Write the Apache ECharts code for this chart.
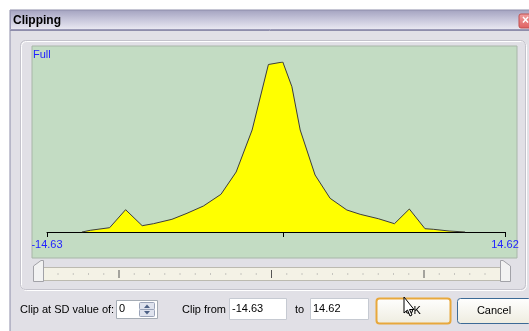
<!DOCTYPE html>
<html><head><meta charset="utf-8">
<style>html,body{margin:0;padding:0;background:#fff;}#c{width:529px;height:331px;}</style>
<script src="https://cdn.jsdelivr.net/npm/echarts@6/dist/echarts.min.js"></script>
</head><body><div id="c"></div>
<script>
// Histogram profile (x = value, y = relative count)
const xValues = [-12.40, -11.87, -10.63, -9.61, -8.55, -7.83, -6.65, -5.69, -4.64, -3.52, -2.55, -1.53, -0.49, 0.43, 1.01, 1.54, 2.49, 3.45, 4.52, 5.37, 6.53, 7.56, 8.51, 9.51, 10.04, 11.05, 12.07];
const counts  = [0, 1.7, 4.3, 22.3, 6.3, 8.3, 12.7, 18.7, 26, 37.7, 60, 102, 167.5, 170, 145.3, 102, 57, 33.7, 22, 17.7, 13.3, 8.3, 23, 3.3, 2.7, 1, 0];
const axisMin = -14.63, axisMax = 14.62;
const tickValues = [-14.63, 0.45, 14.62];
const labelValues = [-14.63, 14.62];
const clipFrom = "-14.63", clipTo = "14.62", sdValue = "0";

const data = xValues.map((x, i) => [x, counts[i]]);
const FONT = '"Liberation Sans", Arial, sans-serif';

// slider ticks (decoration)
const sliderTicks = [];
for (let i = 0; i < 29; i++) {
  const x = 58 + i * 15.25;
  const big = (i === 4 || i === 14 || i === 24);
  sliderTicks.push({type:'line', z:-5, shape:{x1:x, y1: big ? 270 : 273.5, x2:x, y2: big ? 278 : 274.5}, style:{stroke: big ? '#555' : '#999', lineWidth:1}});
}

const chart = echarts.init(document.getElementById('c'), null, {renderer:'canvas'});
chart.setOption({
  backgroundColor: '#ffffff',
  animation: false,
  grid: {left: 47, right: 24, top: 62, bottom: 99},
  xAxis: {
    type: 'value', min: axisMin, max: axisMax,
    splitLine: {show: false},
    axisLine: {show: true, onZero: false, lineStyle: {color: '#000', width: 1}},
    axisTick: {show: true, customValues: tickValues, length: 5, inside: false, lineStyle: {color: '#000'}},
    axisLabel: {customValues: labelValues, color: '#2323ff', fontSize: 11, fontFamily: FONT, margin: 7,
      formatter: v => v.toFixed(2)}
  },
  yAxis: {type: 'value', min: 0, max: 170, show: false},
  series: [{
    type: 'line', data: data, symbol: 'none', smooth: false,
    lineStyle: {color: '#3c3c3c', width: 1},
    areaStyle: {color: '#ffff00', opacity: 1, origin: 'start'},
    z: 3
  }],
  graphic: [
    // dialog body
    {type:'rect', z:-20, shape:{x:10, y:10, width:530, height:330}, style:{fill:'#e1e0e6', stroke:'#8c8ca8', lineWidth:1}},
    // title bar
    {type:'rect', z:-19, shape:{x:10.5, y:10.5, width:530, height:19},
      style:{fill: new echarts.graphic.LinearGradient(0,0,0,1,[{offset:0,color:'#a4a3c0'},{offset:0.5,color:'#c9c8dc'},{offset:1,color:'#ecebf3'}]), stroke:'#9a99b6', lineWidth:1}},
    {type:'line', z:-18, shape:{x1:10, y1:30.5, x2:529, y2:30.5}, style:{stroke:'#8e8dab', lineWidth:1}},
    {type:'text', z:-17, style:{text:'Clipping', x:13, y:21, fill:'#000', font:'bold 12px ' + FONT, verticalAlign:'middle'}},
    // close button
    {type:'rect', z:-17, shape:{x:519, y:14, width:14, height:14, r:2},
      style:{fill: new echarts.graphic.LinearGradient(0,0,0,1,[{offset:0,color:'#f0a0a0'},{offset:1,color:'#e06060'}]), stroke:'#c05050'}},
    {type:'text', z:-16, style:{text:'×', x:522, y:21, fill:'#fff', font:'bold 12px ' + FONT, verticalAlign:'middle'}},
    // group box
    {type:'rect', z:-15, shape:{x:21.5, y:41.5, width:505, height:249, r:5}, style:{fill:'none', stroke:'#ffffff', lineWidth:1}},
    {type:'rect', z:-15, shape:{x:20.5, y:40.5, width:505, height:249, r:5}, style:{fill:'none', stroke:'#c4c3cc', lineWidth:1}},
    // plot background
    {type:'rect', z:-10, shape:{x:32, y:46, width:485, height:212}, style:{fill:'#c3dcc3', stroke:'#a8b6a8', lineWidth:1}},
    {type:'text', z:-9, style:{text:'Full', x:33, y:55, fill:'#2323ff', font:'11px ' + FONT, verticalAlign:'middle'}},
    // slider track
    {type:'rect', z:-8, shape:{x:33.5, y:267.5, width:476, height:13}, style:{fill:'#f4f2e6', stroke:'#bcbab0', lineWidth:1}},
    ...sliderTicks,
    // slider thumbs
    {type:'polygon', z:-4, shape:{points:[[33.5,281.5],[33.5,266],[41,260.5],[43.5,260.5],[43.5,281.5]]}, style:{fill:'#f2f2f2', stroke:'#a2a2a8', lineWidth:1}},
    {type:'polygon', z:-4, shape:{points:[[500.5,281.5],[500.5,260.5],[503,260.5],[510.5,266],[510.5,281.5]]}, style:{fill:'#f2f2f2', stroke:'#a2a2a8', lineWidth:1}},
    // bottom row
    {type:'text', z:-4, style:{text:'Clip at SD value of:', x:20, y:310, fill:'#000', font:'11px ' + FONT, verticalAlign:'middle'}},
    {type:'rect', z:-4, shape:{x:116.5, y:300.5, width:41, height:18}, style:{fill:'#fff', stroke:'#a5acb5', lineWidth:1}},
    {type:'text', z:-3, style:{text:sdValue, x:119, y:309, fill:'#000', font:'11px ' + FONT, verticalAlign:'middle'}},
    {type:'rect', z:-3, shape:{x:139.5, y:302.5, width:15, height:7, r:1}, style:{fill:'#dfe3ee', stroke:'#9aa3b8', lineWidth:1}},
    {type:'rect', z:-3, shape:{x:139.5, y:309.5, width:15, height:7, r:1}, style:{fill:'#dfe3ee', stroke:'#9aa3b8', lineWidth:1}},
    {type:'polygon', z:-2, shape:{points:[[144,308],[150,308],[147,304.5]]}, style:{fill:'#4d6185'}},
    {type:'polygon', z:-2, shape:{points:[[144,311],[150,311],[147,314.5]]}, style:{fill:'#4d6185'}},
    {type:'text', z:-4, style:{text:'Clip from', x:182, y:310, fill:'#000', font:'11px ' + FONT, verticalAlign:'middle'}},
    {type:'rect', z:-4, shape:{x:229.5, y:298.5, width:57, height:21}, style:{fill:'#fff', stroke:'#c6cad2', lineWidth:1}},
    {type:'text', z:-3, style:{text:clipFrom, x:232, y:309, fill:'#000', font:'11px ' + FONT, verticalAlign:'middle'}},
    {type:'text', z:-4, style:{text:'to', x:295, y:310, fill:'#000', font:'11px ' + FONT, verticalAlign:'middle'}},
    {type:'rect', z:-4, shape:{x:310.5, y:298.5, width:58, height:21}, style:{fill:'#fff', stroke:'#c6cad2', lineWidth:1}},
    {type:'text', z:-3, style:{text:clipTo, x:313, y:309, fill:'#000', font:'11px ' + FONT, verticalAlign:'middle'}},
    // OK button
    {type:'rect', z:-4, shape:{x:376.5, y:298.5, width:74, height:25, r:3},
      style:{fill: new echarts.graphic.LinearGradient(0,0,0,1,[{offset:0,color:'#ffffff'},{offset:1,color:'#eeecdf'}]), stroke:'#e8a83c', lineWidth:2}},
    {type:'text', z:-3, style:{text:'OK', x:413, y:311, fill:'#000', font:'11px ' + FONT, align:'center', verticalAlign:'middle'}},
    // Cancel button
    {type:'rect', z:-4, shape:{x:457.5, y:298.5, width:74, height:25, r:3},
      style:{fill: new echarts.graphic.LinearGradient(0,0,0,1,[{offset:0,color:'#ffffff'},{offset:1,color:'#eeecdf'}]), stroke:'#3c6a96', lineWidth:1}},
    {type:'text', z:-3, style:{text:'Cancel', x:494, y:311, fill:'#000', font:'11px ' + FONT, align:'center', verticalAlign:'middle'}},
    // mouse cursor
    {type:'polygon', z:10, shape:{points:[[404,297],[404,313],[407.5,310],[410,316],[412,315],[409.5,309.5],[414,309.5]]}, style:{fill:'#fff', stroke:'#000', lineWidth:1}}
  ]
});
</script></body></html>
